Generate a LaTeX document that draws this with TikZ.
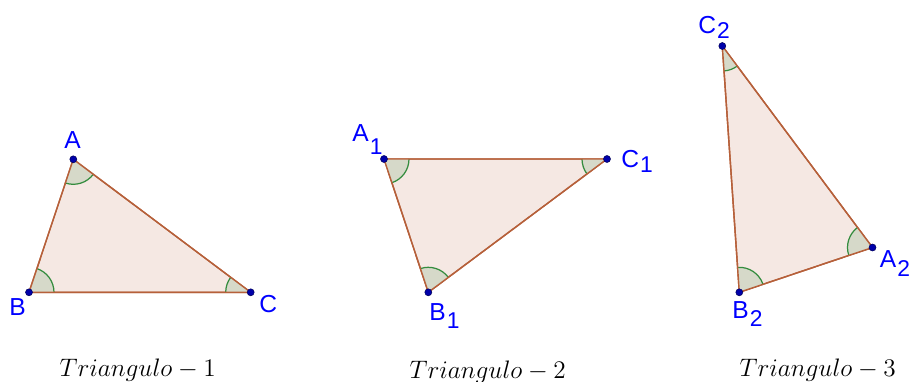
\documentclass[tikz,border=0pt]{standalone}
\usepackage{fontspec}
\setmainfont{Liberation Sans}
\usetikzlibrary{angles}
\definecolor{edgec}{RGB}{182,96,58}
\definecolor{trifill}{RGB}{245,232,227}
\definecolor{angfill}{RGB}{214,217,201}
\definecolor{angline}{RGB}{52,140,62}
\definecolor{ptfill}{RGB}{0,0,170}
\definecolor{ptline}{RGB}{0,0,90}
\definecolor{labc}{RGB}{0,0,255}
% letter with a lowered index; #1 = drop
\newcommand{\vsub}[3]{#2\kern0.6pt\raisebox{-#1}{\fontsize{13}{14}\selectfont #3}}
\tikzset{
  tri/.style={fill=trifill,draw=edgec,line width=0.8pt,line join=round},
  angmark/.style={fill=angfill,draw=angline,line width=0.7pt,angle radius=0.5cm},
  vlab/.style={text=labc,anchor=base west,inner sep=0pt,font=\fontsize{14}{16}\selectfont},
  captext/.style={anchor=base west,inner sep=0pt,font=\fontsize{14}{16}\selectfont},
  pt/.style={circle,fill=ptfill,draw=ptline,line width=0.3pt,inner sep=0pt,minimum size=0.14cm}
}
\begin{document}
\begin{tikzpicture}[x=0.02cm,y=-0.02cm]
\useasboundingbox (0,0) rectangle (910,382);
% Triangle 1
\coordinate (A) at (73.3,159.3);
\coordinate (B) at (29,292.3);
\coordinate (C) at (250.7,292.3);
\draw[tri] (A) -- (B) -- (C) -- cycle;
\pic[angmark] {angle = C--B--A};
\pic[angmark] {angle = B--A--C};
\pic[angmark] {angle = A--C--B};
\draw[edgec,line width=0.8pt,line join=round] (A) -- (B) -- (C) -- cycle;
\node[pt] (pA) at (A) {};
\node[pt] (pB) at (B) {};
\node[pt] (pC) at (C) {};
\node[vlab] (lA) at (64,148.3) {A};
\node[vlab] (lB) at (9,315) {B};
\node[vlab] (lC) at (259,312) {C};
% Triangle 2
\coordinate (A1) at (384,159);
\coordinate (B1) at (428.3,292.3);
\coordinate (C1) at (607,159);
\draw[tri] (A1) -- (B1) -- (C1) -- cycle;
\pic[angmark] {angle = C1--B1--A1};
\pic[angmark] {angle = B1--A1--C1};
\pic[angmark] {angle = A1--C1--B1};
\draw[edgec,line width=0.8pt,line join=round] (A1) -- (B1) -- (C1) -- cycle;
\node[pt] (pA1) at (A1) {};
\node[pt] (pB1) at (B1) {};
\node[pt] (pC1) at (C1) {};
\node[vlab] (lA1) at (352,141) {\vsub{7.8pt}{A}{1}};
\node[vlab] (lB1) at (429,320) {\vsub{5pt}{B}{1}};
\node[vlab] (lC1) at (621,167.7) {\vsub{2.8pt}{C}{1}};
% Triangle 3
\coordinate (C2) at (722.3,46);
\coordinate (B2) at (739.3,292.3);
\coordinate (A2) at (872.5,247.5);
\draw[tri] (C2) -- (B2) -- (A2) -- cycle;
\pic[angmark] {angle = A2--B2--C2};
\pic[angmark] {angle = B2--C2--A2};
\pic[angmark] {angle = C2--A2--B2};
\draw[edgec,line width=0.8pt,line join=round] (C2) -- (B2) -- (A2) -- cycle;
\node[pt] (pA2) at (A2) {};
\node[pt] (pB2) at (B2) {};
\node[pt] (pC2) at (C2) {};
\node[vlab] (lC2) at (698,33) {\vsub{3.4pt}{C}{2}};
\node[vlab] (lB2) at (732,318) {\vsub{5pt}{B}{2}};
\node[vlab] (lA2) at (879.5,267.3) {\vsub{5.5pt}{A}{2}};
% captions
\node[captext] (t1) at (59.3,376.7) {$Triangulo-1$};
\node[captext] (t2) at (409.3,378.5) {$Triangulo-2$};
\node[captext] (t3) at (739.3,376.7) {$Triangulo-3$};
\end{tikzpicture}
\end{document}
